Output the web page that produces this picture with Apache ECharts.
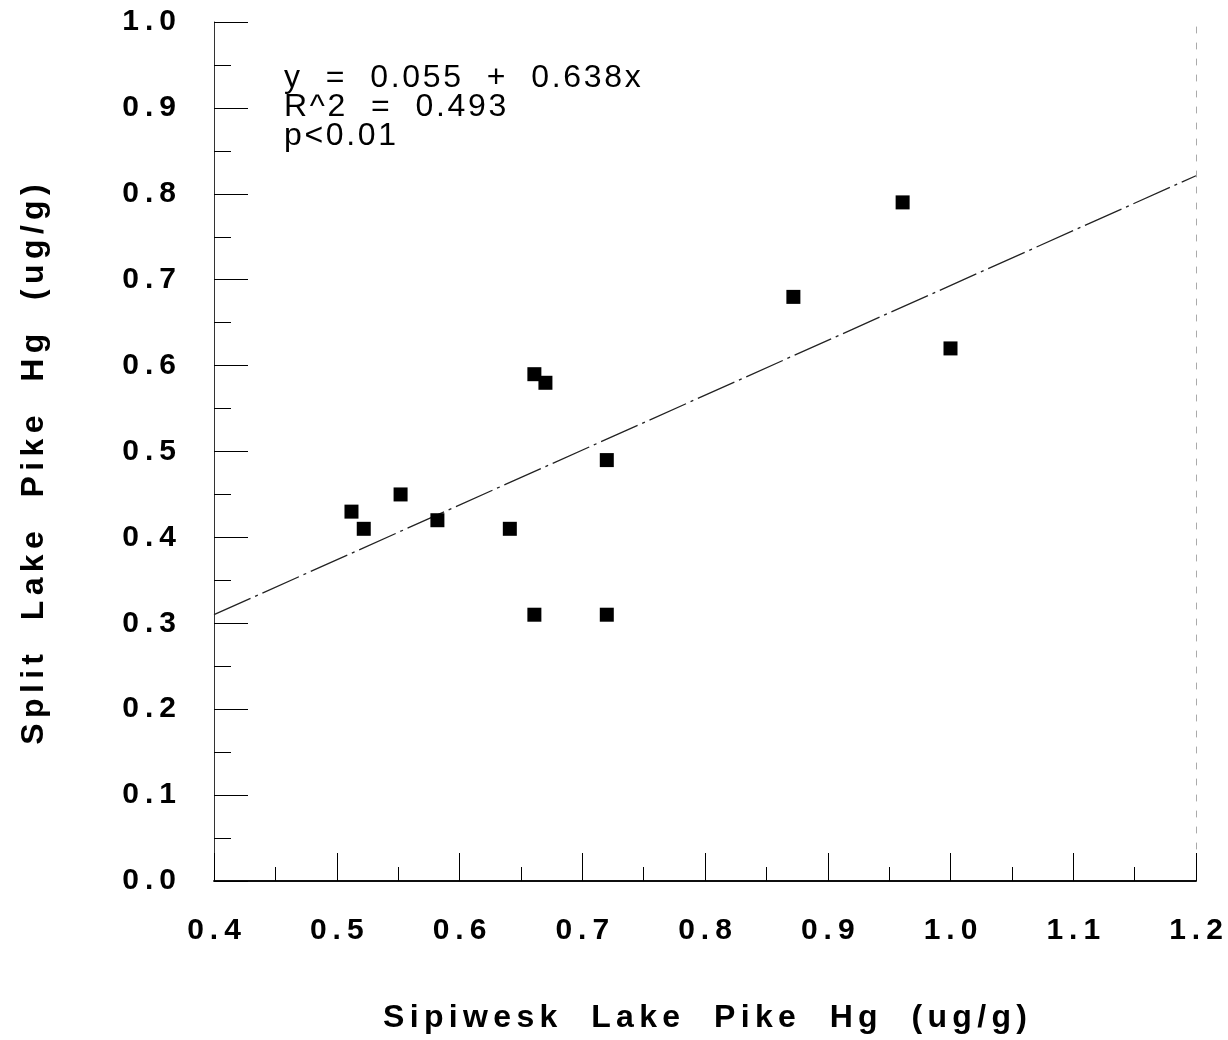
<!DOCTYPE html>
<html>
<head>
<meta charset="utf-8">
<script src="https://cdn.jsdelivr.net/npm/echarts@6/dist/echarts.min.js"></script>
<style>
  html, body { margin: 0; padding: 0; background: #fff; }
  #chart { width: 1228px; height: 1040px; }
</style>
</head>
<body>
<div id="chart"></div>
<script>
// Sipiwesk vs Split Lake pike Hg (ug/g)
const sipiwesk = [0.512, 0.522, 0.552, 0.582, 0.641, 0.661, 0.670, 0.661, 0.720, 0.720, 0.872, 0.961, 1.000];
const splitLake = [0.43, 0.41, 0.45, 0.42, 0.41, 0.59, 0.58, 0.31, 0.49, 0.31, 0.68, 0.79, 0.62];
// fitted line end points (y = 0.055 + 0.638x)
const fitX = [0.4, 1.2];
const fitY = [0.310, 0.821];
const statLines = ["y  =  0.055  +  0.638x", "R^2  =  0.493", "p<0.01"];

// spread letters out like the old plotter font
function spaced(s, gap) {
  return s.split("").join(gap);
}
const HAIR = "\u200A";
const THIN = "\u2009";

const chart = echarts.init(document.getElementById("chart"));
const font = "'Liberation Sans', Arial, sans-serif";

const option = {
  backgroundColor: "#fff",
  animation: false,
  grid: { left: 214, right: 32, top: 22, bottom: 159 },
  xAxis: [
    {
      type: "value",
      min: 0.4,
      max: 1.2,
      interval: 0.1,
      name: spaced("Sipiwesk  Lake  Pike  Hg  (ug/g)", HAIR + HAIR),
      nameLocation: "middle",
      nameGap: 121,
      nameTextStyle: { fontFamily: font, fontSize: 32, fontWeight: "bold", color: "#000" },
      axisLine: { lineStyle: { color: "#000", width: 1.5 } },
      axisTick: { inside: true, length: 28, lineStyle: { color: "#000" } },
      minorTick: { show: true, splitNumber: 2, length: 14, lineStyle: { color: "#000" } },
      splitLine: { show: false },
      axisLabel: {
        margin: 35,
        fontFamily: font,
        fontSize: 30,
        fontWeight: "bold",
        color: "#000",
        formatter: v => spaced(v.toFixed(1), THIN)
      }
    },
    {
      type: "value",
      position: "top",
      min: 0.4,
      max: 1.2,
      axisLine: { show: true, lineStyle: { color: "#000", width: 1.5 } },
      axisTick: { show: false },
      axisLabel: { show: false },
      splitLine: { show: false }
    }
  ],
  yAxis: [
    {
      type: "value",
      min: 0,
      max: 1,
      interval: 0.1,
      name: spaced("Split  Lake  Pike  Hg  (ug/g)", HAIR + HAIR),
      nameLocation: "middle",
      nameRotate: 90,
      nameGap: 164,
      nameTextStyle: {
        fontFamily: font, fontSize: 32, fontWeight: "bold", color: "#000",
        padding: [0, 26, 0, 0]
      },
      axisLine: { show: true, lineStyle: { color: "#333", width: 1 } },
      axisTick: { inside: true, length: 34, lineStyle: { color: "#000" } },
      minorTick: { show: true, splitNumber: 2, length: 17, lineStyle: { color: "#000" } },
      splitLine: { show: false },
      axisLabel: {
        margin: 38,
        fontFamily: font,
        fontSize: 30,
        fontWeight: "bold",
        color: "#000",
        formatter: v => spaced(v.toFixed(1), THIN)
      }
    },
    {
      type: "value",
      position: "right",
      min: 0,
      max: 1,
      axisLine: { show: true, lineStyle: { color: "#aaa", width: 1, type: [6, 10] } },
      axisTick: { show: false },
      axisLabel: { show: false },
      splitLine: { show: false }
    }
  ],
  graphic: [
    {
      type: "text",
      left: 284,
      top: 62,
      style: {
        text: statLines.map(s => spaced(s, HAIR)).join("\n"),
        font: "32px " + font,
        lineHeight: 29,
        fill: "#000"
      }
    }
  ],
  series: [
    {
      type: "line",
      data: fitX.map((x, i) => [x, fitY[i]]),
      symbol: "none",
      lineStyle: { color: "#222", width: 1.3, type: [40, 5, 3, 5] },
      z: 1
    },
    {
      type: "scatter",
      data: sipiwesk.map((x, i) => [x, splitLake[i]]),
      symbol: "rect",
      symbolSize: 14,
      itemStyle: { color: "#000", opacity: 1 },
      z: 2
    }
  ]
};

chart.setOption(option);
</script>
</body>
</html>
